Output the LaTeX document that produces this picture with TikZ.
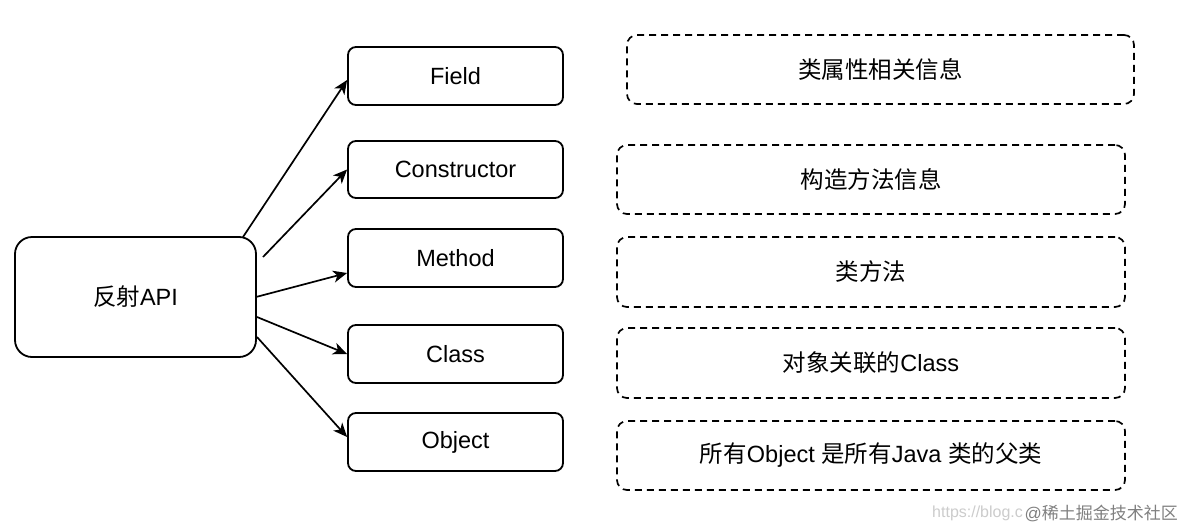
\documentclass[tikz,border=0pt]{standalone}
\usepackage{fontspec}
\setmainfont{Liberation Sans}
\newfontfamily\cjk{Noto Sans CJK SC}
\usetikzlibrary{arrows.meta,positioning}
\begin{document}
\begin{tikzpicture}[x=1pt,y=-1pt,
  txt/.style={font=\fontsize{23.5}{28}\selectfont},
  solidbox/.style={txt,draw=black,line width=1.8pt,rounded corners=8pt,minimum width=215pt,minimum height=58pt,inner sep=0pt},
  apibox/.style={txt,draw=black,line width=1.8pt,rounded corners=17pt,minimum width=241pt,minimum height=120pt,inner sep=0pt},
  dashbox/.style={txt,draw=black,line width=1.7pt,dash pattern=on 7pt off 5pt,rounded corners=10pt,minimum width=508pt,minimum height=69pt,inner sep=0pt},
  conn/.style={line width=1.7pt,-{Stealth[length=14pt,width=12pt,inset=4pt]}},
  mark1/.style={font=\fontsize{16}{18}\selectfont,text=black!20,inner sep=0pt},
  mark2/.style={font=\fontsize{17}{20}\selectfont,text=black!50,inner sep=0pt}
]
\useasboundingbox[fill=white] (0,0) rectangle (1188,530);

\node[apibox] (api) at (135.5,297) {{\cjk 反射}API};

\node[solidbox] (field) at (455.5,76) {Field};
\node[solidbox,minimum height=57pt] (ctor) at (455.5,169.5) {Constructor};
\node[solidbox] (method) at (455.5,258) {Method};
\node[solidbox] (class) at (455.5,354) {Class};
\node[solidbox] (object) at (455.5,442) {Object};

\node[dashbox,minimum width=507pt] (d1) at (880.5,69.5) {\cjk 类属性相关信息};
\node[dashbox] (d2) at (871,179.5) {\cjk 构造方法信息};
\node[dashbox,minimum height=70pt] (d3) at (871,272) {\cjk 类方法};
\node[dashbox,minimum height=70pt] (d4) at (871,363) {{\cjk 对象关联的}Class};
\node[dashbox] (d5) at (871,455.5) {{\cjk 所有}Object {\cjk 是所有}Java {\cjk 类的父类}};

\coordinate (s1) at (243,237);
\coordinate (s2) at (263,257);
\coordinate (s3) at (256,297);
\coordinate (s4) at (257,317);
\coordinate (s5) at (257,337);

\draw[conn] (s1) -- ([yshift=-4pt]field.west);
\draw[conn] (s2) -- (ctor.west);
\draw[conn] (s3) -- ([yshift=-15pt]method.west);
\draw[conn] (s4) -- (class.west);
\draw[conn] (s5) -- ([yshift=5pt]object.west);

\node[mark1,anchor=west] (wm1) at (932,513) {https://blog.c};
\node[mark2,anchor=east] (wm2) at (1178,513) {@{\cjk 稀土掘金技术社区}};
\end{tikzpicture}
\end{document}
